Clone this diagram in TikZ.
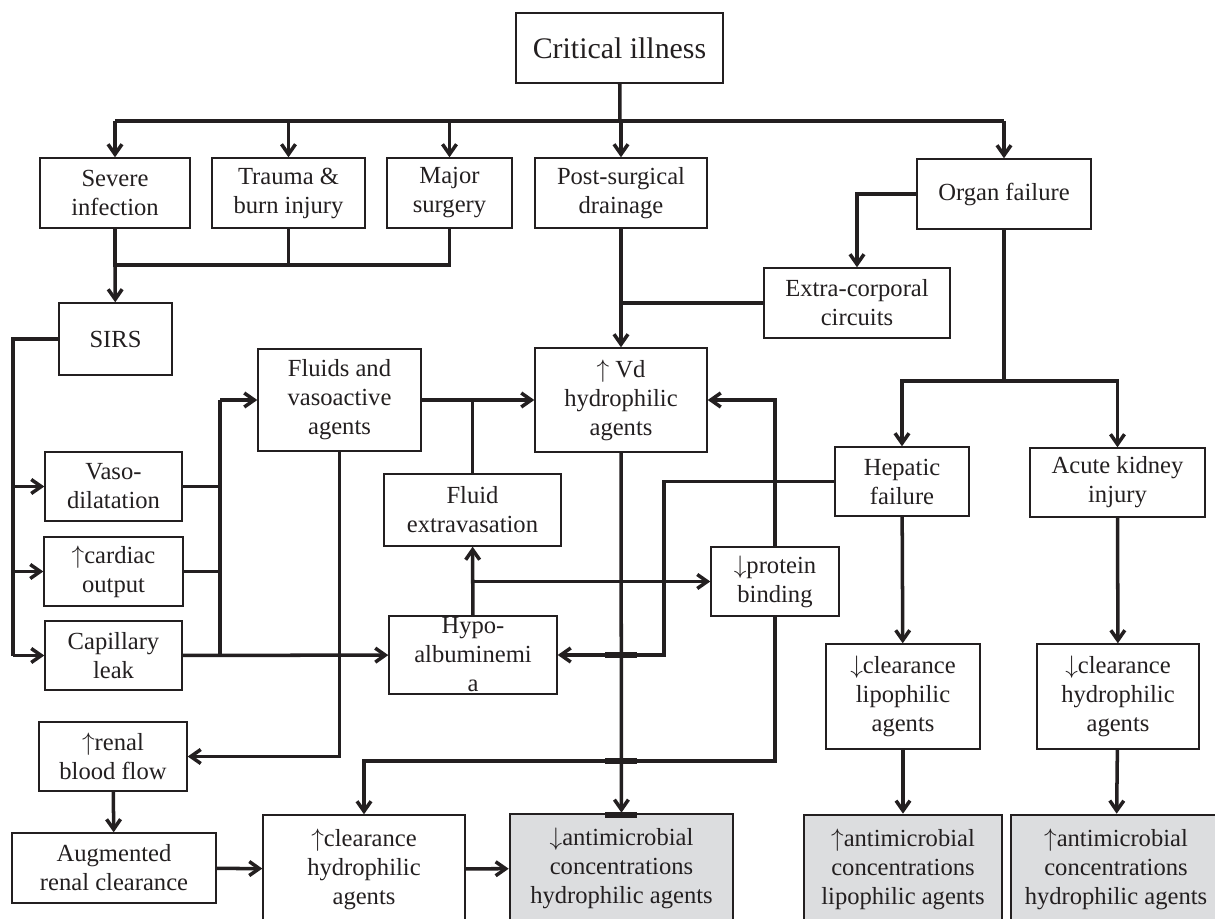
\documentclass[tikz,border=0pt]{standalone}
\usepackage{fontspec}
\setmainfont{Liberation Serif}
\usetikzlibrary{arrows.meta}
\definecolor{ink}{HTML}{231F20}
\definecolor{shade}{HTML}{DCDDDF}

\begin{document}
\begin{tikzpicture}[x=0.02cm,y=-0.02cm,color=ink,
    >={Straight Barb[length=2mm,width=2.8mm]},
    link/.style={line width=2pt},
    box/.style={draw,line width=0.8pt,align=center,inner sep=1pt,
      font=\fontsize{14}{16.5}\selectfont},
    result/.style={box,fill=shade,line width=1.5pt},
    tick/.style={line width=3pt}]

    \useasboundingbox (0,0) rectangle (1215,919);

    \node[box,font=\fontsize{17}{20}\selectfont,minimum width=4.14cm,minimum height=1.4cm] (crit) at (619.5,48) {Critical illness};

    \node[box,minimum width=3cm,minimum height=1.4cm] (sev) at (115,193) {Severe\\infection};
    \node[box,minimum width=3.06cm,minimum height=1.4cm] (trauma) at (288.5,193) {Trauma \&\\burn injury};
    \node[box,minimum width=2.5cm,minimum height=1.4cm] (major) at (449.5,193) {Major\\surgery};
    \node[box,minimum width=3.44cm,minimum height=1.4cm] (post) at (621,193) {Post-surgical\\drainage};
    \node[box,minimum width=3.48cm,minimum height=1.4cm] (organ) at (1004,194) {Organ failure};

    \node[box,minimum width=2.26cm,minimum height=1.44cm] (sirs) at (115.5,339) {SIRS};
    \node[box,minimum width=3.72cm,minimum height=1.4cm] (extra) at (857,303) {Extra-corporal\\circuits};
    \node[box,minimum width=3.44cm,minimum height=2.08cm] (vd) at (621,400) {$\uparrow$ Vd\\hydrophilic\\agents};
    \node[box,minimum width=3.26cm,minimum height=2.04cm] (fluids) at (339.5,400) {Fluids and\\vasoactive\\agents};
    \node[box,minimum width=3.54cm,minimum height=1.44cm] (fluidex) at (472.5,510) {Fluid\\extravasation};

    \node[box,minimum width=2.68cm,minimum height=1.38cm] (hepatic) at (902,481.5) {Hepatic\\failure};
    \node[box,minimum width=3.5cm,minimum height=1.38cm] (aki) at (1117.5,482.5) {Acute kidney\\injury};

    \node[box,minimum width=2.74cm,minimum height=1.38cm] (vaso) at (113.5,486.5) {Vaso-\\dilatation};
    \node[box,minimum width=2.78cm,minimum height=1.38cm] (cardiac) at (113.5,571.5) {$\uparrow$cardiac\\output};
    \node[box,minimum width=2.74cm,minimum height=1.38cm] (cap) at (113.5,655.5) {Capillary\\leak};

    \node[box,minimum width=2.56cm,minimum height=1.38cm] (protein) at (775,581.5) {$\downarrow$protein\\binding};
    \node[box,minimum width=3.36cm,minimum height=1.44cm] (hypo) at (473,655) {Hypo-\\albuminemi\\a};

    \node[box,minimum width=3.08cm,minimum height=2.1cm] (clrlipo) at (903,696.5) {$\downarrow$clearance\\lipophilic\\agents};
    \node[box,minimum width=3.24cm,minimum height=2.1cm] (clrhydro) at (1118,696.5) {$\downarrow$clearance\\hydrophilic\\agents};

    \node[box,minimum width=2.96cm,minimum height=1.38cm] (renal) at (113,756.5) {$\uparrow$renal\\blood flow};
    \node[box,minimum width=4.08cm,minimum height=1.4cm] (aug) at (114,868) {Augmented\\renal clearance};
    \node[box,minimum width=4.04cm,minimum height=2.16cm] (clrup) at (364,869) {$\uparrow$clearance\\hydrophilic\\agents};

    \node[result,minimum width=4.46cm,minimum height=2.18cm] (conchydro) at (621.5,868.5) {$\downarrow$antimicrobial\\concentrations\\hydrophilic agents};
    \node[result,minimum width=3.96cm,minimum height=2.16cm] (conclipo) at (903,869) {$\uparrow$antimicrobial\\concentrations\\lipophilic agents};
    \node[result,minimum width=4.2cm,minimum height=2.16cm] (concaki) at (1116,869) {$\uparrow$antimicrobial\\concentrations\\hydrophilic agents};

    \coordinate (bus) at (620,121);
    \coordinate (join) at (115,265);
    \coordinate (br) at (1004,381);
    \coordinate (sbus) at (13,339);
    \coordinate (col) at (220,400);
    \coordinate (hk) at (664,655);
    \coordinate (low) at (364,761);

    \begin{scope}[link]
    \draw (crit) -- (bus);
    \draw (sev.north |- bus) -- (organ.north |- bus);
    \draw[->] (sev.north |- bus) -- (sev);
    \draw[->] (trauma.north |- bus) -- (trauma);
    \draw[->] (major.north |- bus) -- (major);
    \draw[->] (post.north |- bus) -- (post);
    \draw[->] (organ.north |- bus) -- (organ);

    \draw (sev) -- (join) -| (major);
    \draw (trauma) -- (trauma |- join);
    \draw[->] (join) -- (sirs);

    \draw[->] (post) -- (vd);
    \draw (extra) -- (extra -| post);
    \draw[->] (organ) -| (extra);
    \draw (organ) -- (br);
    \draw[->] (br) -| (hepatic);
    \draw[->] (br) -| (aki);

    \draw (sirs) -- (sbus) -- (sbus |- cap);
    \draw[->] (vaso -| sbus) -- (vaso);
    \draw[->] (cardiac -| sbus) -- (cardiac);
    \draw[->] (cap -| sbus) -- (cap);

    \draw (vaso) -- (vaso -| col);
    \draw (cardiac) -- (cardiac -| col);
    \draw (cap -| col) -- (col);
    \draw[->] (col) -- (fluids);
    \draw[->] (cap) -- (hypo);

    \draw[->] (fluids) -- (vd);
    \draw (fluidex) -- (fluidex |- vd);
    \draw[->] (hypo) -- (fluidex);
    \draw[->] (hypo |- protein) -- (protein);
    \draw[->] (protein) |- (vd);
    \draw[->] (protein) |- (low) -- (clrup);
    \draw[->] (hepatic) -| (hk) -- (hypo);
    \draw[->] (vd) -- (conchydro);

    \draw[->] (fluids) |- (renal);
    \draw[->] (renal) -- (aug);
    \draw[->] (aug) -- (clrup);
    \draw[->] (clrup) -- (conchydro);

    \draw[->] (hepatic) -- (clrlipo);
    \draw[->] (clrlipo) -- (conclipo);
    \draw[->] (aki) -- (clrhydro);
    \draw[->] (clrhydro) -- (concaki);
    \end{scope}

    \draw[tick] (605,655) -- (637,655);
    \draw[tick] (605,761) -- (637,761);
    \draw[tick] (605,815) -- (637,815);

\end{tikzpicture}
\end{document}
